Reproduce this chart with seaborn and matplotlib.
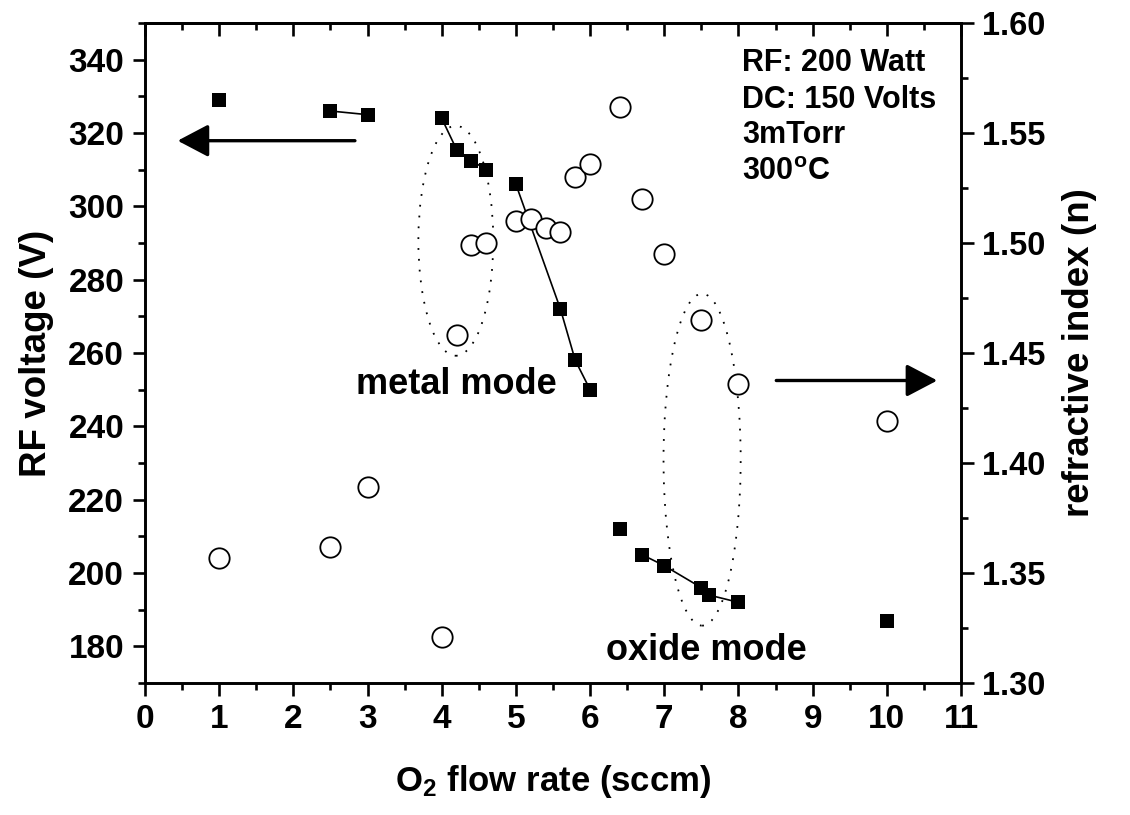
import numpy as np
import pandas as pd
import matplotlib
matplotlib.use("Agg")
import matplotlib.pyplot as plt
from matplotlib.patches import Ellipse
import seaborn as sns

# ---- data ----
flow_v = [1, 2.5, 3, 4, 4.2, 4.4, 4.6, 5, 5.6, 5.8, 6, 6.4, 6.7, 7, 7.5, 7.6, 8, 10]
rf_voltage = [329, 326, 325, 324, 315.5, 312.5, 310, 306, 272, 258, 250, 212, 205, 202, 196, 194, 192, 187]
segment = [0, 1, 1, 2, 2, 2, 2, 3, 3, 3, 3, 4, 5, 5, 5, 5, 5, 6]

flow_n = [1, 2.5, 3, 4, 4.2, 4.4, 4.6, 5, 5.2, 5.4, 5.6, 5.8, 6, 6.4, 6.7, 7, 7.5, 8, 10]
ref_index = [1.357, 1.362, 1.389, 1.321, 1.458, 1.499, 1.500, 1.510, 1.511, 1.507, 1.505,
             1.530, 1.536, 1.562, 1.520, 1.495, 1.465, 1.436, 1.419]

x_ticks = list(range(0, 12))
v_ticks = [180, 200, 220, 240, 260, 280, 300, 320, 340]
n_ticks = [1.30, 1.35, 1.40, 1.45, 1.50, 1.55, 1.60]

df_v = pd.DataFrame({"flow": flow_v, "voltage": rf_voltage, "seg": segment})
df_n = pd.DataFrame({"flow": flow_n, "n": ref_index})

sns.set_style("ticks")
plt.rcParams["font.family"] = ["Liberation Sans", "DejaVu Sans"]
plt.rcParams["font.weight"] = "bold"
plt.rcParams["mathtext.fontset"] = "custom"
plt.rcParams["mathtext.rm"] = "Liberation Sans:bold"
plt.rcParams["mathtext.it"] = "Liberation Sans:bold"
plt.rcParams["mathtext.bf"] = "Liberation Sans:bold"
for key in ["text.color", "axes.labelcolor", "xtick.color", "ytick.color", "axes.edgecolor"]:
    plt.rcParams[key] = "black"

fig = plt.figure(figsize=(11.3, 8.15), dpi=100)
ax = fig.add_axes([145/1130, 1-683/815, (961-145)/1130, (683-23)/815])
ax2 = ax.twinx()

# connecting lines + squares (left axis)
sns.lineplot(data=df_v, x="flow", y="voltage", units="seg", estimator=None,
             color="black", lw=1.2, ax=ax, legend=False, sort=False)
sns.scatterplot(data=df_v, x="flow", y="voltage", marker="s", s=95,
                color="black", edgecolor="black", linewidth=0, ax=ax, zorder=3)

# open circles (right axis)
sns.scatterplot(data=df_n, x="flow", y="n", marker="o", s=215,
                facecolor="white", edgecolor="black", linewidth=1.3, ax=ax2, zorder=3)

# axes limits & ticks
ax.set_xlim(0, 11)
ax.set_ylim(170, 350)
ax2.set_ylim(1.30, 1.60)
ax.set_xticks(x_ticks)
ax.set_xticks(np.arange(0.5, 11, 1.0), minor=True)
ax.set_yticks(v_ticks)
ax.set_yticks(np.arange(170, 351, 20), minor=True)
ax2.set_yticks(n_ticks)
ax2.set_yticks(np.arange(1.325, 1.60, 0.05), minor=True)
ax2.set_yticklabels([f"{t:.2f}" for t in n_ticks])

for a in (ax, ax2):
    for sp in a.spines.values():
        sp.set_linewidth(1.9)
        sp.set_visible(True)
        sp.set_color("black")

ax.tick_params(axis="x", which="both", direction="out", top=False)
ax.tick_params(axis="both", which="major", length=9, width=1.9, labelsize=24, pad=6)
ax.tick_params(axis="both", which="minor", length=5, width=1.9)
ax.tick_params(axis="y", which="both", right=False)
ax2.tick_params(axis="y", which="major", length=9, width=1.9, labelsize=23.5, pad=6)
ax2.tick_params(axis="y", which="minor", length=5, width=1.9)

# top axis ticks pointing inward
sec = ax.secondary_xaxis("top")
sec.set_xticks(x_ticks)
sec.set_xticks(np.arange(0.5, 11, 1.0), minor=True)
sec.tick_params(axis="x", which="major", direction="in", length=9, width=1.9, labeltop=False)
sec.tick_params(axis="x", which="minor", direction="in", length=5, width=1.9)
sec.spines["top"].set_linewidth(1.9)

ax.set_xlabel(r"O$_\mathrm{2}$ flow rate (sccm)", fontsize=25, fontweight="bold", labelpad=20)
ax.set_ylabel("RF voltage (V)", fontsize=26.5, fontweight="bold", labelpad=10)
ax2.set_ylabel("refractive index (n)", fontsize=26.5, fontweight="bold", labelpad=12)

# dotted ellipses
ax.add_patch(Ellipse((4.19, 290.6), 1.01, 62.7, fill=False, ec="black",
                     lw=1.3, ls=(0, (1, 5)), zorder=1))
ax.add_patch(Ellipse((7.51, 230.9), 1.04, 90.5, fill=False, ec="black",
                     lw=1.3, ls=(0, (1, 5)), zorder=1))

# arrows
arrow_kw = dict(arrowstyle="-|>,head_length=0.95,head_width=0.5",
                color="black", lw=2.4, mutation_scale=20, shrinkA=0, shrinkB=0)
ax.annotate("", xy=(0.44, 317.9), xytext=(2.83, 317.9), arrowprops=arrow_kw)
ax.annotate("", xy=(10.68, 252.5), xytext=(8.51, 252.5), arrowprops=arrow_kw)

# texts
txt_kw = dict(transform=ax.transAxes, fontsize=22, fontweight="bold", va="center")
ax.text(0.7316, 0.939, "RF: 200 Watt", ha="left", **txt_kw)
ax.text(0.7316, 0.883, "DC: 150 Volts", ha="left", **txt_kw)
ax.text(0.7316, 0.830, "3mTorr", ha="left", **txt_kw)
ax.text(0.7316, 0.774, r"300$^\mathrm{o}$C", ha="left", **txt_kw)
ax.text(0.382, 0.453, "metal mode", ha="center", transform=ax.transAxes,
        fontsize=26, fontweight="bold", va="center")
ax.text(0.6875, 0.05, "oxide mode", ha="center", transform=ax.transAxes,
        fontsize=26, fontweight="bold", va="center")

fig.savefig("out.png", dpi=100)
